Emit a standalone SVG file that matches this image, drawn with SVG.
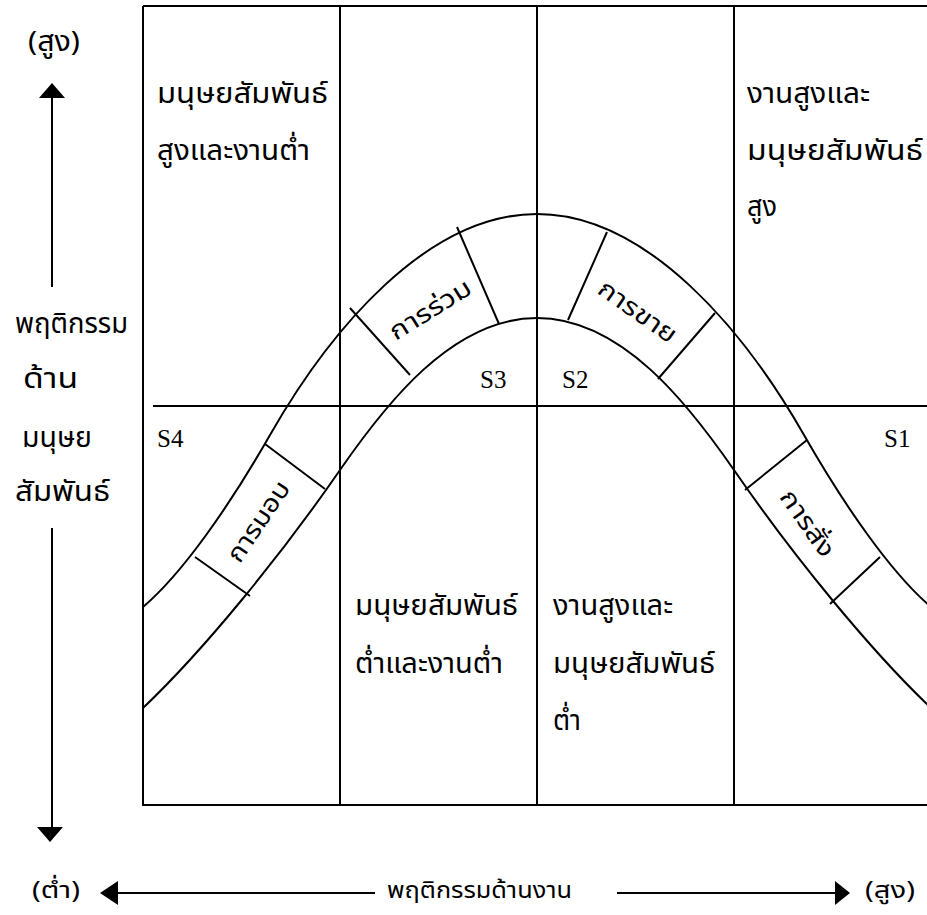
<svg xmlns="http://www.w3.org/2000/svg" width="927" height="915" viewBox="0 0 927 915">
<style>
.ln{stroke:#000;stroke-width:2;fill:none}
.th{font-family:'Noto Sans Thai','Noto Serif Thai','Norasi','Loma','Garuda','Noto Sans','DejaVu Sans',sans-serif;font-size:28px;fill:#000}
.ax{font-family:'Noto Sans Thai','Noto Serif Thai','Norasi','Loma','Garuda','Noto Sans','DejaVu Sans',sans-serif;font-size:23px;fill:#000}
.bt{font-family:'Noto Sans Thai','Noto Serif Thai','Norasi','Loma','Garuda','Noto Sans','DejaVu Sans',sans-serif;font-size:25px;fill:#000;text-anchor:middle}
.s{font-family:'Liberation Serif','DejaVu Serif',serif;font-size:25px;fill:#000}
</style>
<rect width="927" height="915" fill="#fff"/>
<g id="grid">
<path class="ln" d="M143,6 H927 M143,6 V805 H927 M340,6 V805 M537,6 V805 M734,6 V805 M153,406 H927"/>
</g>
<g id="curves">
<path class="ln" d="M143,607 C183,573 230,505 270,435 C330,330 427,214 537,214 C647,214 744,330 804,435 C844,505 891,573 931,607"/>
<path class="ln" d="M143,708 C203,651 280,557 340,470 C385,405 452,318 537,318 C622,318 689,405 734,470 C794,557 871,651 931,708"/>
<path class="ln" d="M195,557 L250,596 M265,444 L325,489 M350,308 L410,375 M457,227 L499,324 M607,232 L568,320 M715,313 L658,379 M807,440 L745,490 M880,557 L830,604"/>
</g>
<g id="axes">
<path class="ln" d="M52,98 V287 M52,528 V828"/>
<path d="M52,83 L39,98 L65,98 Z" fill="#000"/>
<path d="M50,842 L37,827 L63,827 Z" fill="#000"/>
<path class="ln" d="M118,893 H375 M617,893 H835"/>
<path d="M100,893 L118,881 L118,905 Z" fill="#000"/>
<path d="M850,893 L835,881 L835,905 Z" fill="#000"/>
</g>
<g id="label-y">
<text class="th" x="28" y="51" textLength="52" lengthAdjust="spacingAndGlyphs">(สูง)</text>
<text class="th" x="15" y="333" textLength="113" lengthAdjust="spacingAndGlyphs">พฤติกรรม</text>
<text class="th" x="23" y="388" textLength="55" lengthAdjust="spacingAndGlyphs">ด้าน</text>
<text class="th" x="22" y="447" textLength="70" lengthAdjust="spacingAndGlyphs">มนุษย</text>
<text class="th" x="15" y="501" textLength="95" lengthAdjust="spacingAndGlyphs">สัมพันธ์</text>
</g>
<g id="label-x">
<text class="ax" x="32" y="898" textLength="48" lengthAdjust="spacingAndGlyphs">(ต่ำ)</text>
<text class="ax" x="387" y="898" textLength="185" lengthAdjust="spacingAndGlyphs">พฤติกรรมด้านงาน</text>
<text class="ax" x="865" y="898" textLength="50" lengthAdjust="spacingAndGlyphs">(สูง)</text>
</g>
<g id="q-s4">
<text class="th" x="157" y="103" textLength="171" lengthAdjust="spacingAndGlyphs">มนุษยสัมพันธ์</text>
<text class="th" x="157" y="160" textLength="153" lengthAdjust="spacingAndGlyphs">สูงและงานต่ำ</text>
<text class="s" x="157" y="447">S4</text>
</g>
<g id="q-s1">
<text class="th" x="747" y="103" textLength="123" lengthAdjust="spacingAndGlyphs">งานสูงและ</text>
<text class="th" x="747" y="160" textLength="176" lengthAdjust="spacingAndGlyphs">มนุษยสัมพันธ์</text>
<text class="th" x="747" y="216" textLength="30" lengthAdjust="spacingAndGlyphs">สูง</text>
<text class="s" x="884" y="447">S1</text>
</g>
<g id="q-s3">
<text class="th" x="355" y="615" textLength="163" lengthAdjust="spacingAndGlyphs">มนุษยสัมพันธ์</text>
<text class="th" x="355" y="673" textLength="148" lengthAdjust="spacingAndGlyphs">ต่ำและงานต่ำ</text>
<text class="s" x="480" y="388">S3</text>
</g>
<g id="q-s2">
<text class="th" x="553" y="615" textLength="120" lengthAdjust="spacingAndGlyphs">งานสูงและ</text>
<text class="th" x="553" y="673" textLength="162" lengthAdjust="spacingAndGlyphs">มนุษยสัมพันธ์</text>
<text class="th" x="553" y="730" textLength="28" lengthAdjust="spacingAndGlyphs">ต่ำ</text>
<text class="s" x="562" y="388">S2</text>
</g>
<g id="band-delegating"><text class="bt" transform="translate(258,521) rotate(-56)" x="0" y="9" textLength="92" lengthAdjust="spacingAndGlyphs">การมอบ</text></g>
<g id="band-participating"><text class="bt" transform="translate(430,309) rotate(-32)" x="0" y="9" textLength="92" lengthAdjust="spacingAndGlyphs">การร่วม</text></g>
<g id="band-selling"><text class="bt" transform="translate(638,311) rotate(35)" x="0" y="9" textLength="90" lengthAdjust="spacingAndGlyphs">การขาย</text></g>
<g id="band-telling"><text class="bt" transform="translate(808,523) rotate(55)" x="0" y="9" textLength="76" lengthAdjust="spacingAndGlyphs">การสั่ง</text></g>
</svg>
